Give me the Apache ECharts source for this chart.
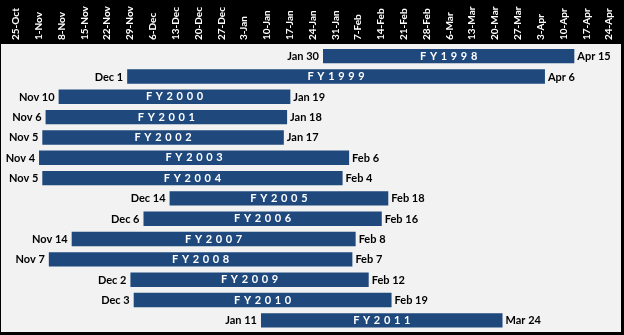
<!DOCTYPE html>
<html>
<head>
<meta charset="utf-8">
<script src="https://cdn.jsdelivr.net/npm/echarts@6/dist/echarts.min.js"></script>
<style>
html,body{margin:0;padding:0;background:#000;}
#chart{width:624px;height:335px;}
</style>
</head>
<body>
<div id="chart"></div>
<script>
var fyLabels = ['FY1998','FY1999','FY2000','FY2001','FY2002','FY2003','FY2004','FY2005','FY2006','FY2007','FY2008','FY2009','FY2010','FY2011'];
var startDates = ['Jan 30','Dec 1','Nov 10','Nov 6','Nov 5','Nov 4','Nov 5','Dec 14','Dec 6','Nov 14','Nov 7','Dec 2','Dec 3','Jan 11'];
var endDates = ['Apr 15','Apr 6','Jan 19','Jan 18','Jan 17','Feb 6','Feb 4','Feb 18','Feb 16','Feb 8','Feb 7','Feb 12','Feb 19','Mar 24'];
var weekLabels = ['25-Oct','1-Nov','8-Nov','15-Nov','22-Nov','29-Nov','6-Dec','13-Dec','20-Dec','27-Dec','3-Jan','10-Jan','17-Jan','24-Jan','31-Jan','7-Feb','14-Feb','21-Feb','28-Feb','6-Mar','13-Mar','20-Mar','27-Mar','3-Apr','10-Apr','17-Apr','24-Apr'];

var MONTHS = {Jan:0,Feb:1,Mar:2,Apr:3,May:4,Jun:5,Jul:6,Aug:7,Sep:8,Oct:9,Nov:10,Dec:11};
function dayOf(s){
  var p = s.split(' ');
  var m = MONTHS[p[0]], d = +p[1];
  var y = m >= 9 ? 2007 : 2008;
  return Math.round((Date.UTC(y,m,d) - Date.UTC(2007,9,25)) / 864e5);
}

var data = fyLabels.map(function(fy,i){
  return [i, dayOf(startDates[i]), dayOf(endDates[i])];
});

var chart = echarts.init(document.getElementById('chart'), null, {renderer:'canvas'});
var FONT = 'Lato, "Open Sans", sans-serif';
chart.setOption({
  backgroundColor: '#000',
  animation: false,
  textStyle: {fontFamily: FONT},
  graphic: [{
    type: 'rect', left: 1, top: 44, z: -10,
    shape: {width: 620, height: 288},
    style: {fill: '#f2f2f2'}
  }],
  grid: [
    {left: 1, right: 3, top: 46, bottom: 4.5},
    {left: 4.6, right: 3.5, top: 43, height: 1}
  ],
  xAxis: [
    {type: 'value', gridIndex: 0, min: -1.654, max: 188.3, show: false},
    {type: 'category', gridIndex: 1, position: 'top', data: weekLabels,
     axisLine: {show: false}, axisTick: {show: false},
     axisLabel: {interval: 0, rotate: 90, margin: 3, color: '#fff', fontWeight: 'bold', fontSize: 10, fontFamily: FONT}}
  ],
  yAxis: [
    {type: 'category', gridIndex: 0, data: fyLabels, inverse: true, show: false},
    {type: 'value', gridIndex: 1, show: false}
  ],
  series: [{
    type: 'custom',
    xAxisIndex: 0, yAxisIndex: 0,
    data: data,
    encode: {x: [1, 2], y: 0},
    renderItem: function(params, api){
      var idx = api.value(0);
      var s = api.value(1), e = api.value(2);
      var p0 = api.coord([s, idx]);
      var p1 = api.coord([e + 1, idx]);
      var h = api.size([0, 1])[1] * 0.71;
      var fy = fyLabels[idx].split('').join('\u2004');
      return {
        type: 'group',
        children: [
          {type: 'rect', shape: {x: p0[0], y: p0[1] - h/2, width: p1[0] - p0[0], height: h}, style: {fill: '#1F497D'}},
          {type: 'text', style: {text: fy, x: (p0[0] + p1[0]) / 2, y: p0[1], align: 'center', verticalAlign: 'middle', fill: '#fff', font: 'bold 11px ' + FONT}},
          {type: 'text', style: {text: startDates[idx], x: p0[0] - 4, y: p0[1] + 0.5, align: 'right', verticalAlign: 'middle', fill: '#000', font: 'bold 11px ' + FONT}},
          {type: 'text', style: {text: endDates[idx], x: p1[0] + 3, y: p0[1] + 0.5, align: 'left', verticalAlign: 'middle', fill: '#000', font: 'bold 11px ' + FONT}}
        ]
      };
    }
  }]
});
</script>
</body>
</html>
